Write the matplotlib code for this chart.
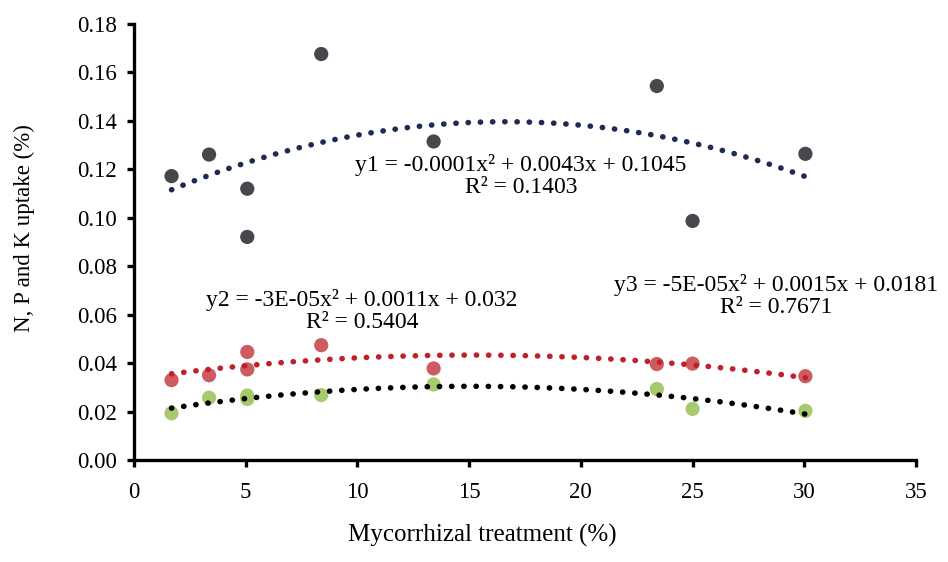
import numpy as np
import matplotlib
matplotlib.use("Agg")
import matplotlib.pyplot as plt

# ---- data ----
treatment = [1.68, 3.36, 5.07, 5.07, 8.38, 13.41, 23.4, 25.0, 30.05]
n_uptake = [0.1172, 0.1261, 0.1120, 0.0921, 0.1676, 0.1315, 0.1544, 0.0987, 0.1264]
p_uptake = [0.0330, 0.0350, 0.0446, 0.0374, 0.0474, 0.0378, 0.0396, 0.0398, 0.0346]
k_uptake = [0.0193, 0.0257, 0.0266, 0.0252, 0.0268, 0.0312, 0.0293, 0.0211, 0.0203]

eq_labels = [
    "y1 = -0.0001x\u00b2 + 0.0043x + 0.1045\nR\u00b2 = 0.1403",
    "y2 = -3E-05x\u00b2 + 0.0011x + 0.032\nR\u00b2 = 0.5404",
    "y3 = -5E-05x\u00b2 + 0.0015x + 0.0181\nR\u00b2 = 0.7671",
]
x_ticks = [0, 5, 10, 15, 20, 25, 30, 35]
y_ticks = [0.00, 0.02, 0.04, 0.06, 0.08, 0.10, 0.12, 0.14, 0.16, 0.18]

plt.rcParams['font.family'] = ['Liberation Serif', 'DejaVu Serif']

W, H = 948, 562
fig = plt.figure(figsize=(W / 100, H / 100), dpi=100)
ax = fig.add_axes([134 / W, 1 - 460 / H, (916 - 134) / W, (460 - 24) / H])

x = np.array(treatment)
xs = np.linspace(x.min(), x.max(), 300)

series = [
    (n_uptake, "#3d3d44", "#1f2a55"),
    (p_uptake, "#cc5258", "#c0202a"),
    (k_uptake, "#a3c766", "#000000"),
]
for vals, mcol, tcol in series:
    ax.scatter(x, vals, s=105, color=mcol, edgecolors='none', alpha=0.95, zorder=2)
for vals, mcol, tcol in series:
    coef = np.polyfit(x, np.array(vals), 2)
    ax.plot(xs, np.polyval(coef, xs), color=tcol, linestyle=(0, (0.05, 2.15)),
            linewidth=4.0, dash_capstyle='round', zorder=3)

ax.text(521 / W, 1 - 176 / H, eq_labels[0], transform=fig.transFigure,
        ha='center', va='center', fontsize=17, linespacing=1.1)
ax.text(362 / W, 1 - 311 / H, eq_labels[1], transform=fig.transFigure,
        ha='center', va='center', fontsize=17, linespacing=1.1)
ax.text(776 / W, 1 - 296 / H, eq_labels[2], transform=fig.transFigure,
        ha='center', va='center', fontsize=17, linespacing=1.1)

ax.set_xlim(0, 35)
ax.set_ylim(0, 0.18)
ax.set_xticks(x_ticks)
ax.set_xticklabels([str(t) for t in x_ticks])
ax.set_yticks(y_ticks)
ax.set_yticklabels([f"{t:.2f}" for t in y_ticks])

for s in ['top', 'right']:
    ax.spines[s].set_visible(False)
for s in ['left', 'bottom']:
    ax.spines[s].set_linewidth(2.4)
    ax.spines[s].set_color('black')
ax.tick_params(axis='both', direction='out', length=5, width=2.4, labelsize=16.5)
ax.tick_params(axis='x', pad=11)
ax.tick_params(axis='y', pad=7)

fig.text(482 / W, 1 - 535 / H, "Mycorrhizal treatment (%)", ha='center', va='center', fontsize=18)
fig.text(24 / W, 1 - 228 / H, "N, P and K uptake (%)", ha='center', va='center',
         rotation=90, fontsize=16.5)

fig.savefig("out.png", dpi=100, facecolor='white')
